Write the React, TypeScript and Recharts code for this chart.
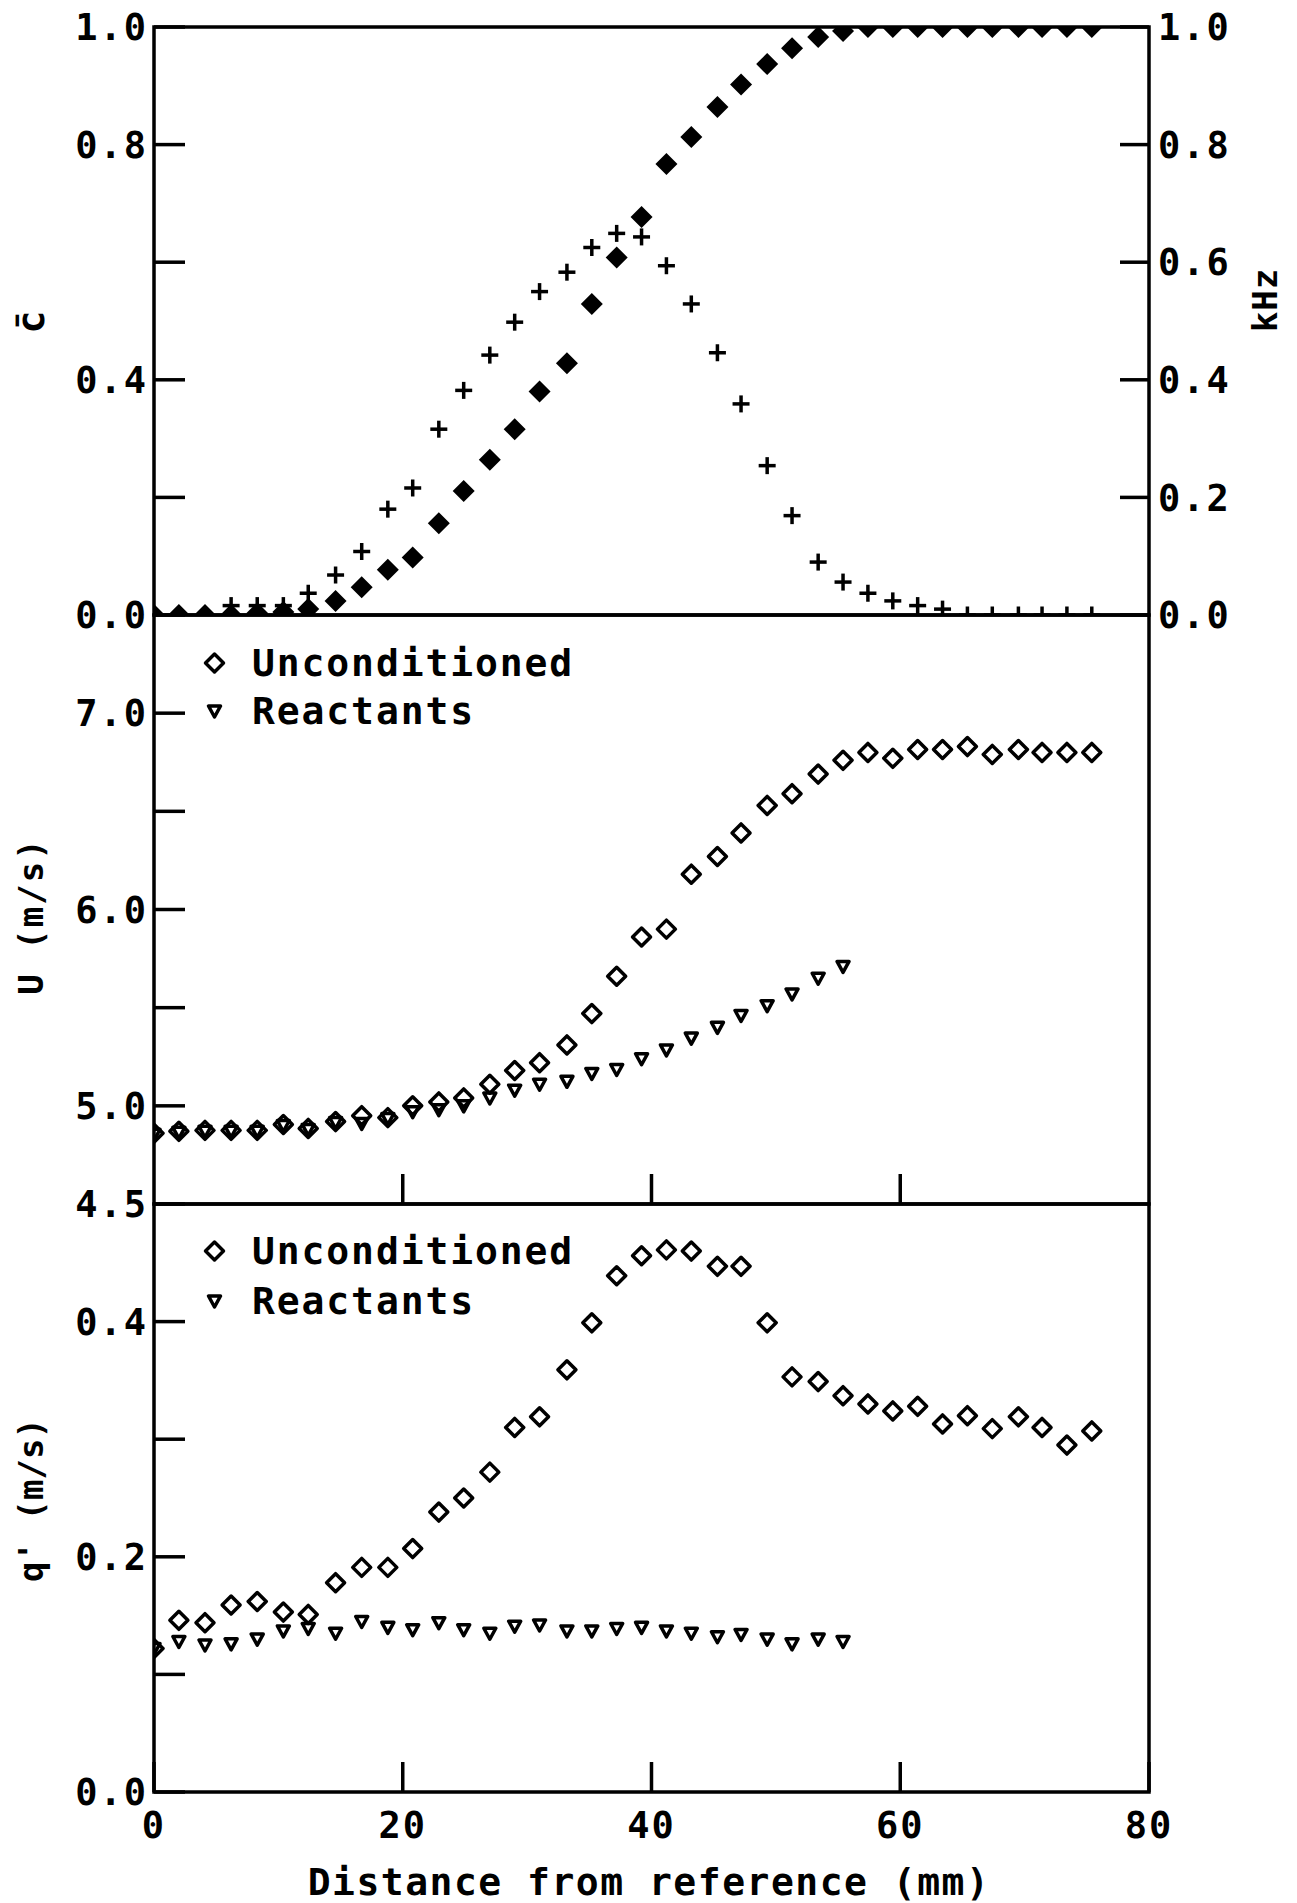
import React from 'react';
import { ScatterChart, Scatter, XAxis, YAxis, ReferenceArea, Legend } from 'recharts';

// distance from reference (mm), shared by all three panels
const xPos = [0, 2.0, 4.1, 6.2, 8.3, 10.4, 12.4, 14.6, 16.7, 18.8, 20.8, 22.9, 24.9, 27.0, 29.0, 31.0, 33.2, 35.2, 37.2, 39.2,
  41.2, 43.2, 45.3, 47.2, 49.3, 51.3, 53.4, 55.4, 57.4, 59.4, 61.4, 63.4, 65.4, 67.4, 69.5, 71.4, 73.4, 75.4];

// top panel: mean progress variable (left) and crossing frequency in kHz (right)
const cBar = [0, 0, 0, 0, 0.003, 0.005, 0.01, 0.024, 0.047, 0.077, 0.098, 0.156, 0.211, 0.264, 0.316, 0.38, 0.428, 0.529, 0.608, 0.677,
  0.767, 0.813, 0.864, 0.902, 0.937, 0.964, 0.983, 0.993, 1, 1, 1, 1, 1, 1, 1, 1, 1, 1];
const freqKHz = [0, 0, 0, 0.016, 0.016, 0.016, 0.037, 0.068, 0.108, 0.18, 0.216, 0.316, 0.382, 0.442, 0.498, 0.55, 0.583, 0.625, 0.649, 0.643,
  0.594, 0.529, 0.446, 0.359, 0.254, 0.169, 0.09, 0.056, 0.037, 0.024, 0.016, 0.01, 0, 0, 0, 0, 0, 0];

// middle panel: mean velocity U (m/s)
const uUncond = [4.86, 4.87, 4.875, 4.875, 4.875, 4.905, 4.885, 4.92, 4.95, 4.94, 5.0, 5.02, 5.04, 5.11, 5.18, 5.22, 5.31, 5.47, 5.66, 5.86,
  5.9, 6.18, 6.27, 6.39, 6.53, 6.59, 6.69, 6.76, 6.8, 6.77, 6.815, 6.815, 6.83, 6.79, 6.815, 6.8, 6.8, 6.8];
const uReact = [4.855, 4.865, 4.87, 4.87, 4.87, 4.9, 4.88, 4.915, 4.91, 4.935, 4.97, 4.98, 5.0, 5.04, 5.08, 5.11, 5.125, 5.165, 5.185, 5.24,
  5.285, 5.345, 5.4, 5.46, 5.51, 5.57, 5.65, 5.71];

// bottom panel: rms velocity q' (m/s)
const qUncond = [0.122, 0.146, 0.144, 0.159, 0.162, 0.153, 0.151, 0.178, 0.191, 0.191, 0.207, 0.238, 0.25, 0.272, 0.31, 0.319, 0.359, 0.399, 0.439, 0.456,
  0.461, 0.46, 0.447, 0.447, 0.399, 0.353, 0.349, 0.337, 0.33, 0.324, 0.328, 0.313, 0.32, 0.309, 0.319, 0.31, 0.295, 0.307];
const qReact = [0.122, 0.128, 0.125, 0.126, 0.13, 0.137, 0.139, 0.135, 0.145, 0.14, 0.138, 0.144, 0.138, 0.135, 0.141, 0.142, 0.137, 0.137, 0.139, 0.14,
  0.137, 0.135, 0.132, 0.134, 0.13, 0.126, 0.13, 0.128];

const seriesNames = ['Unconditioned', 'Reactants'];

const xTicks = [0, 20, 40, 60, 80];
const xInnerTicks = [20, 40, 60];
const cTicks = [0, 0.2, 0.4, 0.6, 0.8, 1.0];
const cLabeled = [0, 0.4, 0.8, 1.0];
const uTicks = [4.5, 5.0, 5.5, 6.0, 6.5, 7.0];
const uLabeled = [4.5, 5.0, 6.0, 7.0];
const qTicks = [0, 0.1, 0.2, 0.3, 0.4];
const qLabeled = [0, 0.2, 0.4];

const FONT = '"DejaVu Sans Mono", monospace';
const tickStyle = { fill: '#000', fontSize: 37, fontFamily: FONT, fontWeight: 700, letterSpacing: 2 };
const tickLineStyle = { stroke: '#000', strokeWidth: 3.5 };

const pts = (ys: number[]) => ys.map((y, i) => ({ x: xPos[i], y }));
const fmt = (labeled: number[]) => (v: number) =>
  labeled.some(l => Math.abs(l - v) < 1e-6) ? v.toFixed(1) : '';

const FilledDiamond = ({ cx, cy }: any) => (
  <path d={`M${cx},${cy - 11}L${cx + 11},${cy}L${cx},${cy + 11}L${cx - 11},${cy}Z`} fill="#000" />
);
const OpenDiamond = ({ cx, cy }: any) => (
  <path d={`M${cx},${cy - 9}L${cx + 9},${cy}L${cx},${cy + 9}L${cx - 9},${cy}Z`}
    fill="none" stroke="#000" strokeWidth={3.5} strokeLinejoin="round" />
);
const DownTriangle = ({ cx, cy }: any) => (
  <path d={`M${cx - 6},${cy - 5}L${cx + 6},${cy - 5}L${cx},${cy + 6}Z`}
    fill="none" stroke="#000" strokeWidth={3.5} strokeLinejoin="round" />
);
const Plus = ({ cx, cy }: any) => (
  <g stroke="#000" strokeWidth={3.5}>
    <line x1={cx - 8.5} y1={cy} x2={cx + 8.5} y2={cy} />
    <line x1={cx} y1={cy - 8.5} x2={cx} y2={cy + 8.5} />
  </g>
);

const LegendBox = ({ payload, rows }: any) => {
  const names: string[] = payload && payload.length
    ? payload.map((p: any) => p.value).sort((a: string, b: string) => seriesNames.indexOf(a) - seriesNames.indexOf(b))
    : seriesNames;
  return (
    <svg width={620} height={150} style={{ display: 'block' }}>
      {names.map((n: string, i: number) => (
        <g key={n}>
          {n === seriesNames[0] ? <OpenDiamond cx={214.5} cy={rows[i]} /> : <DownTriangle cx={214.5} cy={rows[i]} />}
          <text x={252} y={rows[i]} dominantBaseline="central" fontFamily={FONT} fontWeight={700} fontSize={38}
            letterSpacing={1.9} fill="#000">{n}</text>
        </g>
      ))}
    </svg>
  );
};

const Frame = ({ y1, y2, yAxisId }: any) => (
  <ReferenceArea x1={0} x2={80} y1={y1} y2={y2} yAxisId={yAxisId} ifOverflow="visible"
    fill="none" fillOpacity={0} stroke="#000" strokeWidth={3.5} />
);

export default function App() {
  const W = 1297;
  // axes get width/height 1 so they still render; margins are 1px smaller to compensate
  return (
    <div style={{ position: 'absolute', left: 0, top: 0, width: W, height: 1903, background: '#fff', overflow: 'hidden' }}>
      {/* top panel: c-bar and kHz */}
      <div style={{ position: 'absolute', left: 0, top: 0 }}>
        <ScatterChart width={W} height={660} margin={{ top: 27, right: 147, bottom: 45, left: 153 }}>
          <XAxis type="number" dataKey="x" domain={[0, 80]} allowDataOverflow hide />
          <YAxis type="number" dataKey="y" domain={[0, 1]} ticks={cTicks} interval={0} allowDataOverflow width={1}
            axisLine={false} tickLine={tickLineStyle} tickSize={-31} tickMargin={37}
            tick={tickStyle} tickFormatter={fmt(cLabeled)} />
          <YAxis yAxisId="khz" orientation="right" type="number" dataKey="y" domain={[0, 1]} ticks={cTicks} interval={0}
            allowDataOverflow width={1} axisLine={false} tickLine={tickLineStyle} tickSize={-29} tickMargin={38}
            tick={tickStyle} tickFormatter={(v: number) => v.toFixed(1)} />
          <Frame y1={0} y2={1} />
          <Scatter data={pts(cBar)} shape={FilledDiamond} isAnimationActive={false} />
          <Scatter data={pts(freqKHz)} yAxisId="khz" shape={Plus} isAnimationActive={false} />
        </ScatterChart>
      </div>

      {/* middle panel: U */}
      <div style={{ position: 'absolute', left: 0, top: 600 }}>
        <ScatterChart width={W} height={654} margin={{ top: 15, right: 148, bottom: 49, left: 153 }}>
          <XAxis type="number" dataKey="x" domain={[0, 80]} ticks={xInnerTicks} interval={0} allowDataOverflow height={1}
            axisLine={false} tickLine={tickLineStyle} tickSize={-30} tickFormatter={() => ''} />
          <YAxis type="number" dataKey="y" domain={[4.5, 7.5]} ticks={uTicks} interval={0} allowDataOverflow width={1}
            axisLine={false} tickLine={tickLineStyle} tickSize={-31} tickMargin={37}
            tick={tickStyle} tickFormatter={fmt(uLabeled)} />
          <Frame y1={4.5} y2={7.5} />
          <Scatter name={seriesNames[0]} data={pts(uUncond)} shape={OpenDiamond} isAnimationActive={false} />
          <Scatter name={seriesNames[1]} data={pts(uReact)} shape={DownTriangle} isAnimationActive={false} />
          <Legend layout="vertical" align="center" verticalAlign="middle"
            wrapperStyle={{ left: 0, top: 0, width: 620, height: 150 }}
            content={(p: any) => <LegendBox payload={p.payload} rows={[63, 111]} />} />
        </ScatterChart>
      </div>

      {/* bottom panel: q' */}
      <div style={{ position: 'absolute', left: 0, top: 1190 }}>
        <ScatterChart width={W} height={713} margin={{ top: 14, right: 148, bottom: 110, left: 153 }}>
          <XAxis type="number" dataKey="x" domain={[0, 80]} ticks={xTicks} interval={0} allowDataOverflow height={1}
            axisLine={false} tickLine={tickLineStyle} tickSize={-30} tickMargin={50}
            tick={tickStyle} />
          <YAxis type="number" dataKey="y" domain={[0, 0.5]} ticks={qTicks} interval={0} allowDataOverflow width={1}
            axisLine={false} tickLine={tickLineStyle} tickSize={-31} tickMargin={37}
            tick={tickStyle} tickFormatter={fmt(qLabeled)} />
          <Frame y1={0} y2={0.5} />
          <Scatter name={seriesNames[0]} data={pts(qUncond)} shape={OpenDiamond} isAnimationActive={false} />
          <Scatter name={seriesNames[1]} data={pts(qReact)} shape={DownTriangle} isAnimationActive={false} />
          <Legend layout="vertical" align="center" verticalAlign="middle"
            wrapperStyle={{ left: 0, top: 0, width: 620, height: 150 }}
            content={(p: any) => <LegendBox payload={p.payload} rows={[61, 111]} />} />
        </ScatterChart>
      </div>

      {/* axis titles */}
      <svg width={W} height={1903} style={{ position: 'absolute', left: 0, top: 0, pointerEvents: 'none' }}
        fontFamily={FONT} fontWeight={700} fill="#000">
        <text x={31} y={322} transform="rotate(-90 31 322)" textAnchor="middle" dominantBaseline="central" fontSize={38}>c̄</text>
        <text x={31} y={916} transform="rotate(-90 31 916)" textAnchor="middle" dominantBaseline="central" fontSize={34} letterSpacing={2}>U (m/s)</text>
        <text x={31} y={1500} transform="rotate(-90 31 1500)" textAnchor="middle" dominantBaseline="central" fontSize={34}>q' (m/s)</text>
        <text x={1265} y={300} transform="rotate(-90 1265 300)" textAnchor="middle" dominantBaseline="central" fontSize={34} letterSpacing={1}>kHz</text>
        <text x={649} y={1895} textAnchor="middle" fontSize={38} letterSpacing={1.5}>Distance from reference (mm)</text>
      </svg>
    </div>
  );
}
